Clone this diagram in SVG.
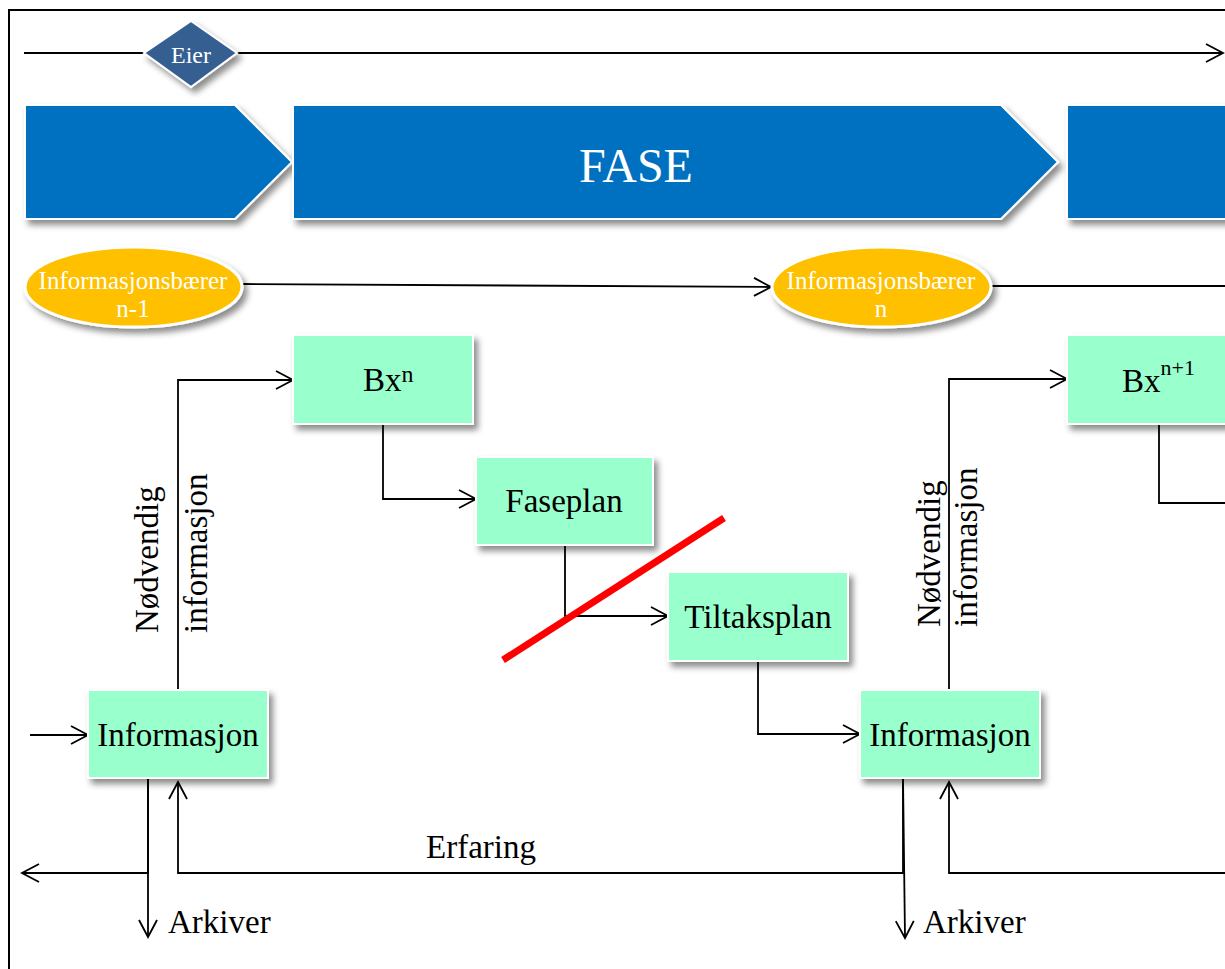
<svg xmlns="http://www.w3.org/2000/svg" width="1225" height="969" viewBox="0 0 1225 969">
  <defs>
    <filter id="shadow" x="-20%" y="-20%" width="140%" height="150%">
      <feDropShadow dx="4" dy="5" stdDeviation="3" flood-color="#000" flood-opacity="0.45"/>
    </filter>
    <marker id="arrow" viewBox="0 0 20 20" refX="18" refY="10" markerWidth="20" markerHeight="20" markerUnits="userSpaceOnUse" orient="auto">
      <path d="M1,1 L18,10 L1,19" fill="none" stroke="#000" stroke-width="1.8"/>
    </marker>
    <style>
      .frame { fill: none; stroke: #000; stroke-width: 2; }
      .phase { fill: #0070c0; stroke: #fff; stroke-width: 2; filter: url(#shadow); }
      .owner { fill: #365f91; stroke: #fff; stroke-width: 2; filter: url(#shadow); }
      .carrier { fill: #ffc000; stroke: #fff; stroke-width: 3; filter: url(#shadow); }
      .box { fill: #99ffcc; stroke: #fff; stroke-width: 2; filter: url(#shadow); }
      .conn { fill: none; stroke: #000; stroke-width: 1.8; }
      .arr { marker-end: url(#arrow); }
      .t { font-family: "Liberation Serif", "Times New Roman", serif; fill: #000; }
      .lbl { font-size: 33px; }
      .w { fill: #fff; }
      .mid { text-anchor: middle; }
    </style>
  </defs>

  <!-- outer frame -->
  <rect class="frame" x="9" y="10" width="1240" height="990"/>

  <!-- connectors -->
  <g id="connectors">
    <path class="conn arr" d="M24,53 H1223"/>
    <path class="conn arr" d="M243,284 L771,287"/>
    <path class="conn" d="M991,286 H1226"/>
    <path class="conn arr" d="M30,735 H88"/>
    <path class="conn arr" d="M178,690 V380 H293"/>
    <path class="conn arr" d="M383,424 V499 H476"/>
    <path class="conn arr" d="M565,545 V616 H668"/>
    <path class="conn arr" d="M758,661 V734 H860"/>
    <path class="conn arr" d="M148,778 V873 H22"/>
    <path class="conn arr" d="M148,778 V937"/>
    <path class="conn arr" d="M903,778 L903,873 H178 V782"/>
    <path class="conn arr" d="M903,778 L905,938"/>
    <path class="conn arr" d="M1226,873 H949 V782"/>
    <path class="conn arr" d="M949,690 V379 H1067"/>
    <path class="conn" d="M1159,424 V503 H1226"/>
  </g>

  <!-- owner -->
  <g id="owner">
    <polygon class="owner" points="191,21 237,53 191,87 144,53"/>
    <text class="t w mid" x="191" y="63" font-size="24">Eier</text>
  </g>

  <!-- phase chevrons -->
  <g id="phase-prev">
    <polygon class="phase" points="25,105 235,105 292,162 235,219 25,219"/>
  </g>
  <g id="phase">
    <polygon class="phase" points="293,105 1001,105 1058,162 1001,219 293,219"/>
    <text class="t w mid" x="636" y="182" font-size="48">FASE</text>
  </g>
  <g id="phase-next">
    <rect class="phase" x="1067" y="105" width="200" height="114"/>
  </g>

  <!-- information carriers -->
  <g id="carrier-prev">
    <ellipse class="carrier" cx="133.5" cy="287" rx="108.5" ry="40"/>
    <text class="t w mid" x="133" y="289" font-size="25">Informasjonsbærer</text>
    <text class="t w mid" x="133" y="317" font-size="25">n-1</text>
  </g>
  <g id="carrier">
    <ellipse class="carrier" cx="881.5" cy="287" rx="109.5" ry="40"/>
    <text class="t w mid" x="881" y="289" font-size="25">Informasjonsbærer</text>
    <text class="t w mid" x="881" y="317" font-size="25">n</text>
  </g>

  <!-- process boxes -->
  <g id="bx-n">
    <rect class="box" x="293" y="335" width="180" height="89"/>
    <text class="t lbl" x="363" y="391">Bx<tspan font-size="24" dy="-9">n</tspan></text>
  </g>
  <g id="faseplan">
    <rect class="box" x="476" y="457" width="177" height="88"/>
    <text class="t lbl mid" x="564" y="512">Faseplan</text>
  </g>
  <g id="tiltaksplan">
    <rect class="box" x="668" y="572" width="180" height="89"/>
    <text class="t lbl mid" x="758" y="628">Tiltaksplan</text>
  </g>
  <g id="informasjon-1">
    <rect class="box" x="88" y="690" width="180" height="88"/>
    <text class="t lbl mid" x="178" y="746">Informasjon</text>
  </g>
  <g id="informasjon-2">
    <rect class="box" x="860" y="690" width="180" height="88"/>
    <text class="t lbl mid" x="950" y="746">Informasjon</text>
  </g>
  <g id="bx-n1">
    <rect class="box" x="1067" y="335" width="200" height="89"/>
    <text class="t lbl" x="1122" y="392">Bx<tspan font-size="22" dy="-17">n+1</tspan></text>
  </g>

  <!-- crossed-out link -->
  <line x1="503" y1="660" x2="724" y2="518" stroke="#ff0000" stroke-width="7"/>

  <!-- labels -->
  <g id="labels">
    <text class="t lbl" transform="translate(158,633) rotate(-90)">Nødvendig</text>
    <text class="t lbl" transform="translate(207,633) rotate(-90)">informasjon</text>
    <text class="t lbl" transform="translate(940,627) rotate(-90)">Nødvendig</text>
    <text class="t lbl" transform="translate(977,627) rotate(-90)">informasjon</text>
    <text class="t lbl mid" x="481" y="858">Erfaring</text>
    <text class="t lbl" x="168" y="933">Arkiver</text>
    <text class="t lbl" x="923" y="933">Arkiver</text>
  </g>
</svg>
